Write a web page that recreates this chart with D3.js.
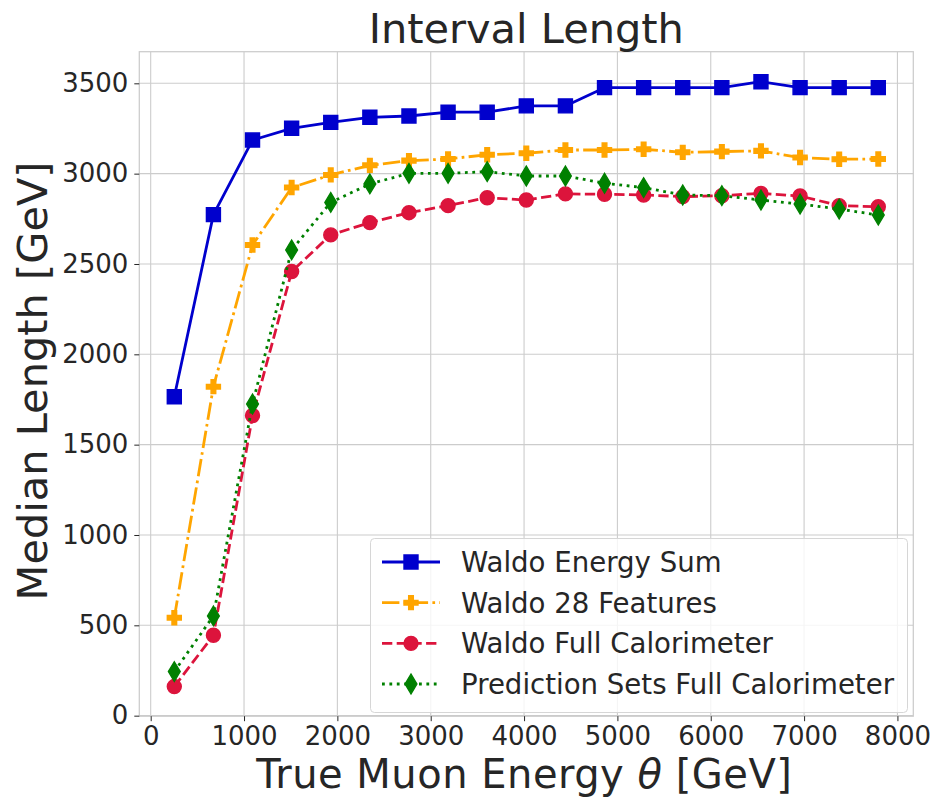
<!DOCTYPE html>
<html>
<head>
<meta charset="utf-8">
<script src="https://cdn.jsdelivr.net/npm/d3@7"></script>
<style>
  html, body { margin: 0; padding: 0; background: #ffffff; }
  svg { display: block; font-family: "DejaVu Sans", sans-serif; }
</style>
</head>
<body>
<svg id="chart" width="936" height="798"></svg>
<script>
// True muon energy bin centres [GeV]
const energies = [253, 672, 1091, 1510, 1929, 2348, 2767, 3186, 3605, 4024,
                  4443, 4862, 5281, 5700, 6119, 6538, 6957, 7376, 7795];

// Median interval length [GeV] for each method
const waldoEnergySum = [1765, 2773, 3186, 3251, 3284, 3312, 3319, 3340, 3340, 3375,
                        3375, 3476, 3476, 3476, 3476, 3509, 3476, 3476, 3476];
const waldo28Features = [542, 1821, 2605, 2923, 2993, 3046, 3072, 3081, 3105, 3113,
                         3131, 3131, 3135, 3118, 3122, 3126, 3089, 3080, 3081];
const waldoFullCalo = [161, 445, 1661, 2458, 2661, 2729, 2784, 2823, 2867, 2854,
                       2888, 2886, 2882, 2873, 2878, 2891, 2876, 2823, 2817];
const predSetsFullCalo = [244, 552, 1725, 2578, 2841, 2943, 3002, 3002, 3011, 2987,
                          2987, 2947, 2923, 2882, 2878, 2854, 2832, 2804, 2771];

const seriesNames = ["Waldo Energy Sum", "Waldo 28 Features",
                     "Waldo Full Calorimeter", "Prediction Sets Full Calorimeter"];
const xTicks = [0, 1000, 2000, 3000, 4000, 5000, 6000, 7000, 8000];
const yTicks = [0, 500, 1000, 1500, 2000, 2500, 3000, 3500];

const seriesValues = [waldoEnergySum, waldo28Features, waldoFullCalo, predSetsFullCalo];
const styles = [
  { color: "#0000cd", dash: null,              marker: "square"  },
  { color: "#ffa500", dash: "17.4,4.3,2.7,4.3", marker: "plus"    },
  { color: "#dc143c", dash: "10.3,4.4",        marker: "circle"  },
  { color: "#008000", dash: "2.8,4.6",         marker: "diamond" }
];

const textColor = "#262626";
const gridColor = "#cccccc";

const svg = d3.select("#chart");
const plot = { left: 139.3, top: 51.7, right: 913.3, bottom: 716.2 };

const x = d3.scaleLinear().domain([-122, 8170]).range([plot.left, plot.right]);
const y = d3.scaleLinear().domain([-3, 3675]).range([plot.bottom, plot.top]);

// Grid
const g = svg.append("g");
g.selectAll("line.vgrid").data(xTicks).enter().append("line")
  .attr("x1", d => x(d)).attr("x2", d => x(d))
  .attr("y1", plot.top).attr("y2", plot.bottom)
  .attr("stroke", gridColor).attr("stroke-width", 1.1);
g.selectAll("line.hgrid").data(yTicks).enter().append("line")
  .attr("x1", plot.left).attr("x2", plot.right)
  .attr("y1", d => y(d)).attr("y2", d => y(d))
  .attr("stroke", gridColor).attr("stroke-width", 1.1);

// Frame
svg.append("rect")
  .attr("x", plot.left).attr("y", plot.top)
  .attr("width", plot.right - plot.left).attr("height", plot.bottom - plot.top)
  .attr("fill", "none").attr("stroke", gridColor).attr("stroke-width", 1.25);

// Axes
const xAxis = d3.axisBottom(x).tickValues(xTicks).tickFormat(d3.format("d"))
  .tickSize(5).tickPadding(6);
const yAxis = d3.axisLeft(y).tickValues(yTicks).tickFormat(d3.format("d"))
  .tickSize(5).tickPadding(6);

const gx = svg.append("g").attr("transform", `translate(0,${plot.bottom})`).call(xAxis);
const gy = svg.append("g").attr("transform", `translate(${plot.left},0)`).call(yAxis);
[gx, gy].forEach(ax => {
  ax.select(".domain").remove();
  ax.selectAll(".tick line").attr("stroke", textColor).attr("stroke-width", 1);
  ax.selectAll(".tick text")
    .attr("fill", textColor)
    .style("font-family", "DejaVu Sans")
    .style("font-size", "26px");
});
gx.selectAll(".tick text").attr("dy", "0.68em");

// Marker shapes
function markerPath(type) {
  if (type === "square") {
    const s = 14; return `M${-s/2},${-s/2}h${s}v${s}h${-s}Z`;
  }
  if (type === "circle") {
    const r = 7;
    return `M${r},0A${r},${r} 0 1,1 ${-r},0A${r},${r} 0 1,1 ${r},0Z`;
  }
  if (type === "diamond") {
    const h = 9.8, w = 5.9;
    return `M0,${-h}L${w},0L0,${h}L${-w},0Z`;
  }
  // filled plus
  const a = 7, t = 2.33;
  return `M${-t},${-a}H${t}V${-t}H${a}V${t}H${t}V${a}H${-t}V${t}H${-a}V${-t}H${-t}Z`;
}

const line = d3.line().x(d => x(d[0])).y(d => y(d[1]));

seriesValues.forEach((vals, i) => {
  const st = styles[i];
  const pts = energies.map((e, j) => [e, vals[j]]);
  const sg = svg.append("g");
  sg.append("path").datum(pts)
    .attr("d", line)
    .attr("fill", "none")
    .attr("stroke", st.color)
    .attr("stroke-width", 2.8)
    .attr("stroke-dasharray", st.dash)
    .attr("stroke-linejoin", "round");
  sg.selectAll("path.m").data(pts).enter().append("path")
    .attr("class", "m")
    .attr("d", markerPath(st.marker))
    .attr("transform", d => `translate(${x(d[0])},${y(d[1])})`)
    .attr("fill", st.color)
    .attr("stroke", st.color)
    .attr("stroke-width", 1.4);
});

// Legend
const lg = svg.append("g");
lg.append("rect")
  .attr("x", 370.5).attr("y", 538.5).attr("width", 537).attr("height", 174)
  .attr("rx", 4).attr("ry", 4)
  .attr("fill", "#ffffff").attr("fill-opacity", 0.8)
  .attr("stroke", "#d6d6d6").attr("stroke-width", 1);
const rowY = d3.scaleLinear().domain([0, 3]).range([562, 684]);
seriesNames.forEach((name, i) => {
  const st = styles[i];
  const yy = rowY(i);
  lg.append("line")
    .attr("x1", 382).attr("x2", 440).attr("y1", yy).attr("y2", yy)
    .attr("stroke", st.color).attr("stroke-width", 2.8)
    .attr("stroke-dasharray", st.dash);
  lg.append("path")
    .attr("d", markerPath(st.marker))
    .attr("transform", `translate(411,${yy})`)
    .attr("fill", st.color).attr("stroke", st.color).attr("stroke-width", 1.4);
  lg.append("text")
    .attr("x", 461).attr("y", yy).attr("dy", "0.36em")
    .attr("fill", textColor)
    .style("font-size", "27.6px")
    .text(name);
});

// Title and axis labels
svg.append("text")
  .attr("x", (plot.left + plot.right) / 2).attr("y", 43)
  .attr("text-anchor", "middle").attr("fill", textColor)
  .style("font-size", "41.5px")
  .text("Interval Length");

const xl = svg.append("text")
  .attr("x", (plot.left + plot.right) / 2 - 2).attr("y", 788.3)
  .attr("text-anchor", "middle").attr("fill", textColor)
  .style("font-size", "40px")
  .style("letter-spacing", "0.5px");
xl.append("tspan").text("True Muon Energy ");
xl.append("tspan").style("font-style", "italic").text("θ");
xl.append("tspan").text(" [GeV]");

svg.append("text")
  .attr("transform", `translate(46.5,${(plot.top + plot.bottom) / 2 - 3}) rotate(-90)`)
  .attr("text-anchor", "middle").attr("fill", textColor)
  .style("font-size", "41.5px")
  .text("Median Length [GeV]");
</script>
</body>
</html>
